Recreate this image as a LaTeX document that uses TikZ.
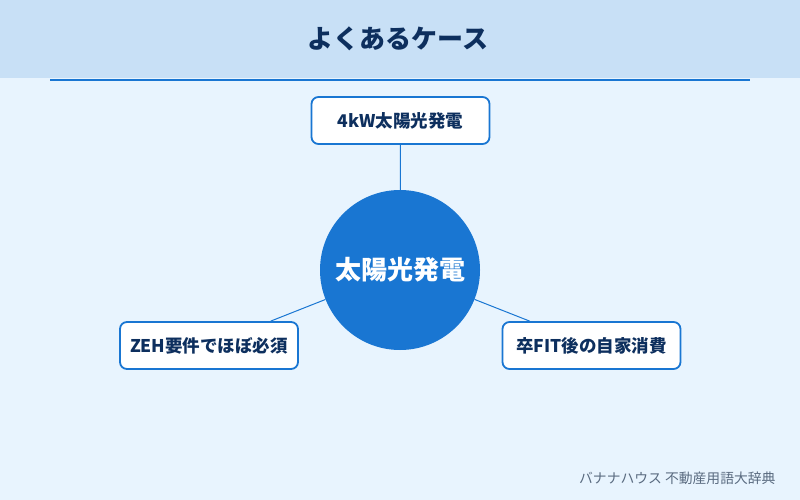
\documentclass[tikz,border=0pt]{standalone}
\usepackage{fontspec}
\setmainfont{Noto Sans CJK JP}
\usepackage{tikz}
\definecolor{casebg}{HTML}{E8F4FE}
\definecolor{casehead}{HTML}{C8E0F6}
\definecolor{caseblue}{HTML}{1976D2}
\definecolor{casenavy}{HTML}{0D2F5E}
\definecolor{casegray}{HTML}{5A6B80}

\begin{document}
\begin{tikzpicture}[x=1pt,y=-1pt,
    leaf/.style={draw=caseblue,line width=1.8pt,fill=white,rounded corners=7pt,
      minimum width=178pt,minimum height=47pt,text=casenavy,font=\bfseries\fontsize{17.5}{20}\selectfont},
    hub/.style={circle,fill=caseblue,minimum size=160pt,inner sep=0pt,text=white,
      font=\bfseries\fontsize{26}{30}\selectfont},
    link/.style={draw=caseblue,line width=1pt}]
  \useasboundingbox (0,0) rectangle (800,500);
  \fill[casebg] (0,0) rectangle (800,500);
  \fill[casehead] (0,0) rectangle (800,78);
  \node[text=casenavy,font=\bfseries\fontsize{26}{30}\selectfont] (title) at (398,39) {よくあるケース};
  \draw[caseblue,line width=2pt] (50,80) -- (750,80);
  \node[hub] (sun) at (400,270) {太陽光発電};
  \node[leaf] (kw) at (400.5,120.5) {4kW太陽光発電};
  \node[leaf] (zeh) at (209,345.5) {ZEH要件でほぼ必須};
  \node[leaf] (fit) at (591.5,345.5) {卒FIT後の自家消費};
  \draw[link] (kw) -- (sun);
  \draw[link] (sun) -- (zeh);
  \draw[link] (sun) -- (fit);
  \node[anchor=east,text=casegray,font=\fontsize{13.8}{16}\selectfont] (src) at (779,478) {バナナハウス 不動産用語大辞典};
\end{tikzpicture}
\end{document}
